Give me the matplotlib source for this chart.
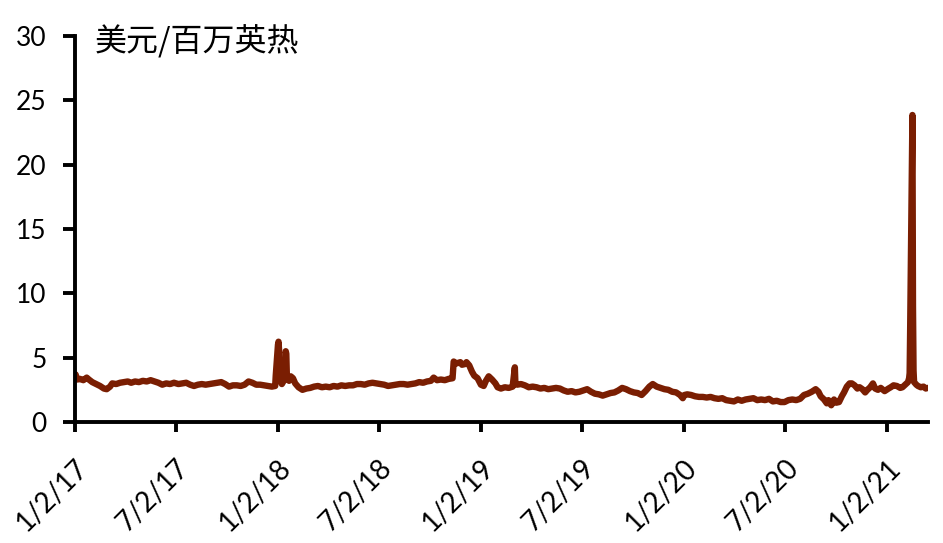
import matplotlib
matplotlib.use("Agg")
import matplotlib.pyplot as plt
import pandas as pd

dates = [
"2017-01-03","2017-01-06","2017-01-11","2017-01-17","2017-01-23","2017-01-27","2017-02-02","2017-02-09",
"2017-02-16","2017-02-23","2017-02-28","2017-03-06","2017-03-10","2017-03-17","2017-03-24","2017-03-31",
"2017-04-07","2017-04-13","2017-04-20","2017-04-27","2017-05-04","2017-05-11","2017-05-18","2017-05-25",
"2017-06-01","2017-06-08","2017-06-15","2017-06-22","2017-06-29","2017-07-07","2017-07-14","2017-07-21",
"2017-07-28","2017-08-04","2017-08-11","2017-08-18","2017-08-25","2017-09-01","2017-09-08","2017-09-15",
"2017-09-22","2017-09-29","2017-10-06","2017-10-13","2017-10-20","2017-10-27","2017-11-03","2017-11-10",
"2017-11-17","2017-11-24","2017-12-01","2017-12-08","2017-12-15","2017-12-22","2017-12-28","2017-12-29",
"2018-01-02","2018-01-03","2018-01-04","2018-01-05","2018-01-09","2018-01-11","2018-01-15","2018-01-16",
"2018-01-17","2018-01-18","2018-01-22","2018-01-25","2018-01-29","2018-02-02","2018-02-08","2018-02-15",
"2018-02-22","2018-03-01","2018-03-08","2018-03-15","2018-03-22","2018-03-29","2018-04-05","2018-04-12",
"2018-04-19","2018-04-26","2018-05-03","2018-05-10","2018-05-17","2018-05-24","2018-05-31","2018-06-07",
"2018-06-14","2018-06-21","2018-06-28","2018-07-05","2018-07-12","2018-07-19","2018-07-26","2018-08-02",
"2018-08-09","2018-08-16","2018-08-23","2018-08-30","2018-09-06","2018-09-13","2018-09-20","2018-09-27",
"2018-10-04","2018-10-09","2018-10-15","2018-10-22","2018-10-29","2018-11-05","2018-11-12","2018-11-14",
"2018-11-19","2018-11-26","2018-11-29","2018-12-04","2018-12-07","2018-12-12","2018-12-17","2018-12-21",
"2018-12-27","2019-01-02","2019-01-07","2019-01-11","2019-01-16","2019-01-22","2019-01-28","2019-02-01",
"2019-02-07","2019-02-14","2019-02-21","2019-02-28","2019-03-04","2019-03-05","2019-03-08","2019-03-15",
"2019-03-22","2019-03-29","2019-04-05","2019-04-12","2019-04-19","2019-04-26","2019-05-03","2019-05-10",
"2019-05-17","2019-05-24","2019-05-31","2019-06-07","2019-06-14","2019-06-21","2019-06-28","2019-07-05",
"2019-07-12","2019-07-19","2019-07-26","2019-08-02","2019-08-09","2019-08-16","2019-08-23","2019-08-30",
"2019-09-06","2019-09-13","2019-09-20","2019-09-27","2019-10-04","2019-10-11","2019-10-18","2019-10-25",
"2019-11-01","2019-11-07","2019-11-14","2019-11-21","2019-11-28","2019-12-05","2019-12-12","2019-12-19",
"2019-12-26","2019-12-31","2020-01-03","2020-01-08","2020-01-15","2020-01-22","2020-01-29","2020-02-05",
"2020-02-12","2020-02-19","2020-02-26","2020-03-04","2020-03-11","2020-03-18","2020-03-25","2020-04-01",
"2020-04-08","2020-04-15","2020-04-22","2020-04-29","2020-05-06","2020-05-13","2020-05-20","2020-05-27",
"2020-06-03","2020-06-10","2020-06-17","2020-06-24","2020-07-01","2020-07-08","2020-07-15","2020-07-22",
"2020-07-29","2020-08-05","2020-08-12","2020-08-19","2020-08-26","2020-08-31","2020-09-04","2020-09-10",
"2020-09-15","2020-09-18","2020-09-23","2020-09-28","2020-10-02","2020-10-07","2020-10-12","2020-10-16",
"2020-10-21","2020-10-26","2020-10-30","2020-11-04","2020-11-09","2020-11-13","2020-11-18","2020-11-23",
"2020-11-27","2020-12-02","2020-12-07","2020-12-11","2020-12-16","2020-12-21","2020-12-28","2021-01-04",
"2021-01-08","2021-01-13","2021-01-19","2021-01-25","2021-01-29","2021-02-03","2021-02-08","2021-02-10",
"2021-02-11","2021-02-12","2021-02-16","2021-02-17","2021-02-18","2021-02-19","2021-02-23","2021-02-26",
"2021-03-03","2021-03-08","2021-03-12","2021-03-15",
]

prices = [
3.70,3.30,3.35,3.25,3.45,3.30,3.10,2.95,
2.80,2.60,2.55,2.75,3.00,2.95,3.05,3.10,
3.15,3.05,3.15,3.10,3.20,3.15,3.25,3.15,
3.05,2.90,3.00,2.95,3.05,2.95,3.00,3.05,
2.90,2.80,2.90,2.95,2.90,2.95,3.00,3.05,
3.10,2.95,2.75,2.85,2.85,2.80,2.90,3.15,
3.05,2.90,2.90,2.85,2.80,2.75,2.80,3.60,
6.00,6.24,5.60,3.50,2.95,3.10,3.40,5.50,
5.30,3.60,3.20,3.55,3.40,3.00,2.70,2.50,
2.60,2.65,2.75,2.80,2.70,2.75,2.70,2.80,
2.75,2.85,2.80,2.85,2.85,2.95,2.95,2.90,
3.00,3.05,3.00,2.95,2.90,2.80,2.85,2.90,
2.95,2.95,2.90,2.95,3.00,3.10,3.05,3.15,
3.20,3.45,3.25,3.30,3.25,3.35,3.40,4.70,
4.55,4.65,4.45,4.50,4.65,4.40,3.90,3.60,
3.40,2.90,2.80,3.20,3.55,3.30,3.00,2.70,
2.60,2.70,2.65,2.75,4.25,2.95,2.90,2.95,
2.85,2.70,2.75,2.70,2.60,2.65,2.55,2.60,
2.65,2.60,2.45,2.35,2.40,2.30,2.35,2.45,
2.55,2.35,2.20,2.15,2.05,2.15,2.25,2.30,
2.45,2.65,2.55,2.40,2.30,2.25,2.10,2.40,
2.75,2.95,2.75,2.65,2.55,2.50,2.35,2.30,
2.10,1.85,2.10,2.15,2.10,2.00,1.95,1.95,
1.90,1.95,1.85,1.80,1.85,1.70,1.65,1.60,
1.75,1.65,1.75,1.80,1.85,1.70,1.75,1.70,
1.80,1.60,1.65,1.55,1.55,1.70,1.75,1.70,
1.80,2.10,2.20,2.35,2.55,2.35,2.00,1.75,
1.45,1.70,1.30,1.75,1.50,1.55,2.00,2.30,
2.75,3.00,3.00,2.85,2.60,2.70,2.55,2.30,
2.50,2.70,3.00,2.60,2.50,2.65,2.40,2.60,
2.70,2.85,2.80,2.65,2.70,2.90,3.10,3.40,
3.80,7.50,23.86,9.00,4.00,3.10,2.90,2.80,
2.70,2.75,2.60,2.65,
]

tick_labels = ["1/2/17","7/2/17","1/2/18","7/2/18","1/2/19","7/2/19","1/2/20","7/2/20","1/2/21"]
tick_dates = ["2017-01-02","2017-07-02","2018-01-02","2018-07-02","2019-01-02","2019-07-02",
              "2020-01-02","2020-07-02","2021-01-02"]
y_ticks = [0, 5, 10, 15, 20, 25, 30]
unit_label = "美元/百万英热"

color = "#7a1e02"
fig = plt.figure(figsize=(9.43, 5.43), dpi=100)
ax = fig.add_axes([75/943, 1-422/543, 853/943, 386/543])

x = pd.to_datetime(dates)
ax.plot(x, prices, color=color, lw=4.6, solid_joinstyle="round", solid_capstyle="round")

ax.set_ylim(0, 30)
ax.set_yticks(y_ticks)
ax.set_xlim(pd.Timestamp("2017-01-02"), pd.Timestamp("2021-03-16"))
ax.set_xticks(pd.to_datetime(tick_dates))
ax.set_xticklabels(tick_labels, rotation=45, ha="right", va="top", rotation_mode="anchor",
                   family="Lato", fontsize=20)
for lab in ax.get_yticklabels():
    lab.set_family("Lato")
    lab.set_fontsize(19)

for s in ["top", "right"]:
    ax.spines[s].set_visible(False)
for s in ["left", "bottom"]:
    ax.spines[s].set_linewidth(2.8)
    ax.spines[s].set_color("black")
ax.tick_params(axis="y", direction="out", length=8.5, width=2.8, pad=12)
ax.tick_params(axis="x", direction="out", length=7.5, width=2.8, pad=16)

ax.text(0.023, 0.985, unit_label, transform=ax.transAxes, ha="left", va="center",
        fontsize=23, family=["Noto Sans CJK SC", "DejaVu Sans"])

fig.savefig("out.png", dpi=100)
